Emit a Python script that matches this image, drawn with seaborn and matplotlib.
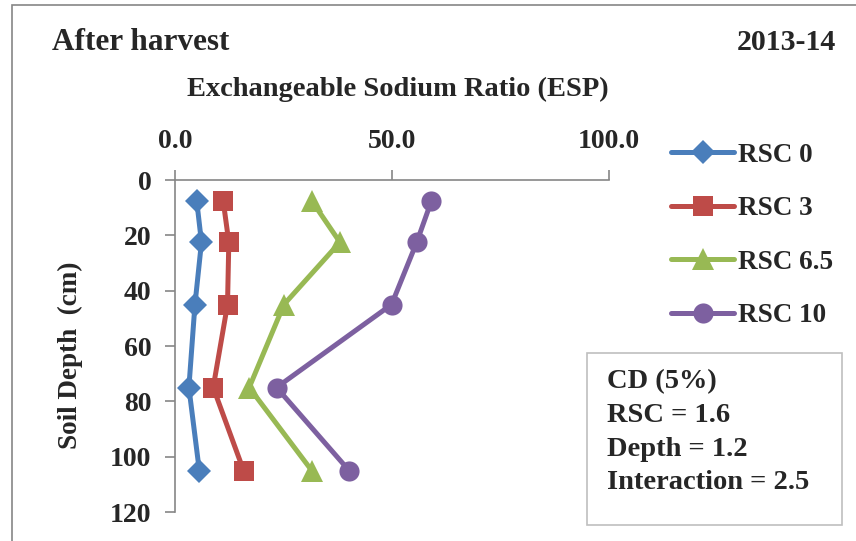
import matplotlib
matplotlib.use("Agg")
import matplotlib.pyplot as plt
import seaborn as sns
import pandas as pd
from matplotlib.patches import Rectangle

sns.set_theme(style="white")
plt.rcParams["font.family"] = ["Liberation Serif", "DejaVu Serif"]
plt.rcParams["font.weight"] = "bold"

depth = [7.5, 22.5, 45, 75, 105]
rsc_0 = [5.0, 6.1, 4.6, 3.2, 5.6]
rsc_3 = [11.1, 12.4, 12.1, 8.8, 15.8]
rsc_6_5 = [31.5, 38.0, 25.1, 17.1, 31.5]
rsc_10 = [59.1, 55.7, 49.9, 23.4, 40.1]

series_names = ["RSC 0", "RSC 3", "RSC 6.5", "RSC 10"]
series_values = [rsc_0, rsc_3, rsc_6_5, rsc_10]
colors = ["#4A7EBB", "#BE4B48", "#98B954", "#7D60A0"]
markers = ["D", "s", "^", "o"]
marker_sizes = [12.5, 14, 15.5, 14.5]

x_ticks = [0, 50, 100]
x_tick_labels = ["0.0", "50.0", "100.0"]
y_ticks = [0, 20, 40, 60, 80, 100, 120]

fig = plt.figure(figsize=(8.56, 5.41), dpi=100)
ax = fig.add_axes([175 / 856, 1 - 512 / 541, (609 - 175) / 856, (512 - 180) / 541])

for name, vals, c, m, ms in zip(series_names, series_values, colors, markers, marker_sizes):
    df = pd.DataFrame({"ESP": vals, "Depth": depth})
    sns.lineplot(data=df, x="ESP", y="Depth", ax=ax, color=c, marker=m,
                 markersize=ms, markeredgewidth=0, linewidth=3.6,
                 sort=False, estimator=None, label=name)

ax.set_xlim(0, 100)
ax.set_ylim(120, 0)
ax.xaxis.tick_top()
ax.set_xticks(x_ticks)
ax.set_xticklabels(x_tick_labels)
ax.set_yticks(y_ticks)
ax.tick_params(axis="x", top=True, bottom=False, direction="out", length=7,
               width=1.2, color="#868686", labelsize=20, pad=12)
ax.tick_params(axis="y", left=True, direction="out", length=7, width=1.2,
               color="#868686", labelsize=20, pad=10)
for lab in ax.get_xticklabels() + ax.get_yticklabels():
    lab.set_fontweight("bold")

for s in ["right", "bottom"]:
    ax.spines[s].set_visible(False)
for s in ["top", "left"]:
    ax.spines[s].set_color("#868686")
    ax.spines[s].set_linewidth(1.2)
ax.set_xlabel("")
ax.set_ylabel("")

fig.text(398 / 856, 1 - 89 / 541, "Exchangeable Sodium Ratio (ESP)",
         ha="center", va="center", fontsize=20.5, fontweight="bold")
fig.text(70 / 856, 1 - 355 / 541, "Soil Depth  (cm)", rotation=90,
         ha="center", va="center", fontsize=19.5, fontweight="bold")
fig.text(52 / 856, 1 - 42 / 541, "After harvest", ha="left", va="center",
         fontsize=22.5, fontweight="bold")
fig.text(836 / 856, 1 - 42 / 541, "2013-14", ha="right", va="center",
         fontsize=21.5, fontweight="bold")

leg = ax.legend(loc="upper left", bbox_to_anchor=(660 / 856, 1 - 132 / 541),
                bbox_transform=fig.transFigure, frameon=False,
                prop={"size": 19.5, "weight": "bold"}, handlelength=2.35,
                labelspacing=1.05, handletextpad=0.12, borderaxespad=0)

# Box with critical difference values
fig.patches.append(Rectangle((587 / 856, 1 - 525 / 541), (842 - 587) / 856,
                             (525 - 353) / 541, transform=fig.transFigure,
                             fill=False, edgecolor="#BFBFBF", linewidth=1.2))
cd_lines = ["CD (5%)", "RSC = 1.6", "Depth = 1.2", "Interaction = 2.5"]
for i, t in enumerate(cd_lines):
    fig.text(607 / 856, 1 - (382 + i * 33.5) / 541, t, ha="left", va="center",
             fontsize=20.5, fontweight="bold")

# Outer chart border
fig.patches.append(Rectangle((12 / 856, -0.05), 1.0, 1 - 5 / 541 + 0.05,
                             transform=fig.transFigure, fill=False,
                             edgecolor="#868686", linewidth=1.2))

fig.savefig("out.png", dpi=100)
